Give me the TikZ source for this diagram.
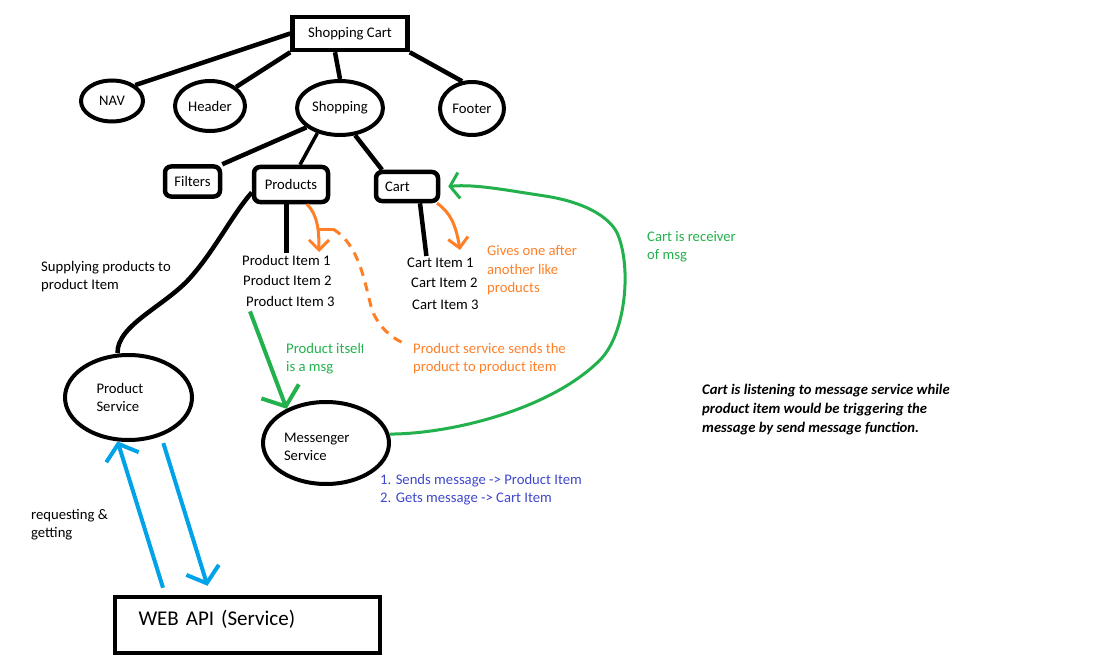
\documentclass[tikz,border=0pt]{standalone}
\usepackage{fontspec}
\setmainfont{Carlito}
\usetikzlibrary{arrows.meta,shapes.geometric}
\definecolor{pgreen}{RGB}{34,177,76}
\definecolor{porange}{RGB}{255,127,39}
\definecolor{pblue}{RGB}{0,162,232}
\definecolor{pindigo}{RGB}{63,72,204}
\begin{document}
\begin{tikzpicture}[x=1pt,y=-1pt,
  font=\fontsize{14.67}{18}\selectfont,
  ell/.style={ellipse, draw, line width=4pt, inner sep=0pt},
  rbox/.style={draw, line width=4.5pt, rounded corners=6pt, inner sep=0pt},
  sbox/.style={draw, line width=4.5pt, inner sep=0pt},
  conn/.style={line width=4.5pt},
  thinconn/.style={line width=3.5pt},
  txt/.style={anchor=west, inner sep=0pt, align=left},
  orangearrow/.style={porange, line width=3pt, -{Straight Barb[length=10pt,width=20pt]}},
  bluearrow/.style={pblue, line width=4pt, -{Straight Barb[length=14pt,width=34pt]}},
]
\useasboundingbox (0,0) rectangle (1098,658);

% main nodes
\node[sbox, minimum width=115, minimum height=33] (sc) at (350,33.5) {Shopping Cart};
\node[ell, minimum width=62, minimum height=41] (nav) at (112,101) {NAV};
\node[ell, minimum width=70, minimum height=50] (header) at (210,106) {Header};
\node[ell, minimum width=86, minimum height=54] (shop) at (340,108) {Shopping};
\node[ell, minimum width=64, minimum height=53] (footer) at (472,108.5) {Footer};
\node[rbox, minimum width=55, minimum height=30] (filters) at (192.5,181.5) {Filters};
\node[rbox, minimum width=74, minimum height=35] (products) at (291,184.5) {Products};
\node[rbox, minimum width=62, minimum height=29, text width=44, align=left] (cart) at (407,186.5) {Cart};
\node[ell, minimum width=127, minimum height=85, text width=64, align=left] (ps) at (128.5,397.5) {Product\\Service};
\node[ell, minimum width=126, minimum height=82, text width=84, align=left, text height=18pt] (ms) at (326,443) {Messenger\\Service};
\node[sbox, minimum width=265, minimum height=56, text width=218, align=left, text depth=15pt,
      font=\fontsize{21}{25}\selectfont] (web) at (247.5,625) {WEB API (Service)};

% item texts
\node[txt] (pi1) at (242,260) {Product Item 1};
\node[txt] (pi2) at (243,280) {Product Item 2};
\node[txt] (pi3) at (246,301) {Product Item 3};
\node[txt] (ci1) at (407,263) {Cart Item 1};
\node[txt] (ci2) at (411,283) {Cart Item 2};
\node[txt] (ci3) at (412,305) {Cart Item 3};

% annotations
\node[txt] (supply) at (41,277) {Supplying products to\\product Item};
\node[txt] (request) at (31,525) {requesting \&\\getting};
\node[txt, text=porange, font=\fontsize{14.67}{18.5}\selectfont] (gives) at (487,270.5) {Gives one after\\another like\\products};
\node[txt, text=pgreen] (receiver) at (647,247) {Cart is receiver\\of msg};
\begin{scope}
  \clip (280,335) rectangle (362,380);
  \node[txt, text=pgreen] (itself) at (286,359) {Product itself\\is a msg};
\end{scope}
\node[txt, text=porange] (psend) at (413,359) {Product service sends the\\product to product item};
\node[txt, text=pindigo] (msgs) at (380,490) {1. Sends message -> Product Item\\2. Gets message -> Cart Item};
\node[txt, font=\fontsize{14.67}{19}\selectfont\bfseries\itshape] (note) at (702,410)
  {Cart is listening to message service while\\product item would be triggering the\\message by send message function.};

% tree connectors
\draw[conn] (sc.west) -- (nav.north east);
\draw[conn] (sc.south west) -- (header.north east);
\draw[conn] ([xshift=-15pt]sc.south) -- (shop.north);
\draw[conn] (sc.south east) -- (footer.110);
\draw[conn] (shop.210) -- (filters.north east);
\draw[thinconn] (shop.228) -- ([xshift=9pt]products.north);
\draw[conn] (shop.299) -- ([xshift=-25pt]cart.north);
\draw[conn] (products.south -| pi1.north) -- ([yshift=2pt]pi1.north);
\draw[conn] ([xshift=13pt]cart.south) -- ([xshift=-14pt,yshift=2pt]ci1.north);

% products -> product service
\draw[conn] ([yshift=-8pt]products.west) .. controls (232,215) and (215,250) .. (190,278)
  .. controls (165,306) and (117,325) .. ([xshift=-11pt]ps.north);

% orange arrows
\coordinate (oa1) at (319,252);
\coordinate (fork) at (318,229);
\coordinate (dstart) at (333,229);
\coordinate (oa2) at (460,250);
\draw[orangearrow] ([xshift=16pt]products.south) .. controls (318,215) and (319,232) .. (oa1);
\draw[porange, line width=3pt] (fork) -- (dstart);
\draw[porange, line width=3pt, dash pattern=on 9pt off 7pt]
  (dstart) .. controls (360,245) and (365,285) .. (372,310)
  .. controls (380,330) and (395,340) .. ([shift={(-6,1)}]psend.north west);
\draw[orangearrow] ([xshift=30pt]cart.south) .. controls (450,212) and (456,225) .. (oa2);

% green arrows
\draw[pgreen, line width=4pt, -{Straight Barb[length=16pt,width=40pt]}]
  ([shift={(4,5)}]pi3.south west) -- (ms.139);
\draw[pgreen, line width=3pt, -{Straight Barb[length=9pt,width=26pt]}]
  (ms.8) .. controls (450,434) and (550,410) .. (600,360)
  .. controls (625,335) and (632,270) .. (618,235)
  .. controls (612,220) and (590,203) .. (545,196)
  .. controls (505,190) and (475,184) .. ([xshift=8pt]cart.east);

% blue arrows
\draw[bluearrow] ([shift={(-84.5,-7)}]web.north) -- (ps.256);
\draw[bluearrow] ([shift={(5,6)}]ps.307) -- ([shift={(-40,-9)}]web.north);
\end{tikzpicture}
\end{document}
